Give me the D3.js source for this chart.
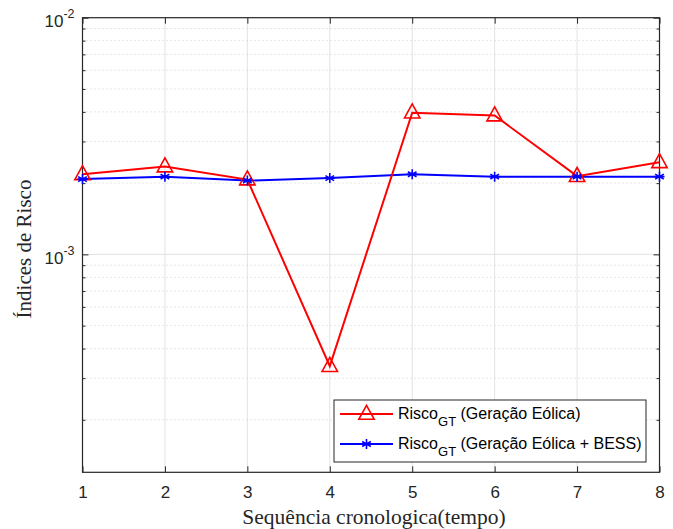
<!DOCTYPE html>
<html>
<head>
<meta charset="utf-8">
<script src="https://cdn.jsdelivr.net/npm/d3@7"></script>
<style>
    body { margin: 0; background: #fff; }
    svg { display: block; }
    .tick text { font-family: "Liberation Sans", Arial, sans-serif; fill: #262626; }
</style>
</head>
<body>
<svg id="chart" width="673" height="529"></svg>
<script>
const steps = [1, 2, 3, 4, 5, 6, 7, 8];
const risk_wind = [2.18e-3, 2.35e-3, 2.07e-3, 3.37e-4, 3.97e-3, 3.86e-3, 2.14e-3, 2.45e-3];
const risk_wind_bess = [2.08e-3, 2.13e-3, 2.05e-3, 2.10e-3, 2.18e-3, 2.13e-3, 2.13e-3, 2.13e-3];
const y_major = [1e-3, 1e-2];
const y_exponents = ["-3", "-2"];
const legend_labels = ["(Geração Eólica)", "(Geração Eólica + BESS)"];

const svg = d3.select("#chart");
const plot_left = 82.5, plot_right = 659.5, plot_top = 17.7, plot_bottom = 472.3;
const axis_color = "#262626";

const x = d3.scaleLinear().domain([1, 8]).range([plot_left, plot_right]);
const y = d3.scaleLog().domain([1.2e-4, 1e-2]).range([plot_bottom, plot_top]);

// minor values 2..9 x 10^k inside the domain
let y_minor = [];
[-4, -3].forEach(k => {
    for (let m = 2; m <= 9; m++) {
        let v = m * Math.pow(10, k);
        if (v >= 1.2e-4 && v < 1e-2) y_minor.push(v);
    }
});

// grid
let grid = svg.append("g");
grid.selectAll("line.vx")
    .data(steps.slice(1, -1))
    .join("line")
    .attr("x1", d => x(d)).attr("x2", d => x(d))
    .attr("y1", plot_top).attr("y2", plot_bottom)
    .attr("stroke", "#e3e3e3").attr("stroke-width", 1);
grid.selectAll("line.my")
    .data(y_minor)
    .join("line")
    .attr("x1", plot_left).attr("x2", plot_right)
    .attr("y1", d => y(d)).attr("y2", d => y(d))
    .attr("stroke", "#cfcfcf").attr("stroke-width", 1)
    .attr("stroke-dasharray", "1,3");
grid.append("line")
    .attr("x1", plot_left).attr("x2", plot_right)
    .attr("y1", y(1e-3)).attr("y2", y(1e-3))
    .attr("stroke", "#e3e3e3").attr("stroke-width", 1);

// axes
function style_axis(g) {
    g.select(".domain").remove();
    g.selectAll(".tick line").attr("stroke", axis_color);
}

svg.append("g")
    .attr("transform", `translate(0,${plot_bottom})`)
    .call(d3.axisBottom(x).tickValues(steps).tickSize(-6).tickPadding(14).tickFormat(d3.format("d")))
    .call(style_axis)
    .selectAll("text").attr("font-size", 17);
svg.append("g")
    .attr("transform", `translate(0,${plot_top})`)
    .call(d3.axisTop(x).tickValues(steps).tickSize(-6).tickFormat(""))
    .call(style_axis);

let y_left = svg.append("g")
    .attr("transform", `translate(${plot_left},0)`)
    .call(d3.axisLeft(y).tickValues(y_major).tickSize(-6).tickFormat(""))
    .call(style_axis);
svg.append("g")
    .attr("transform", `translate(${plot_left},0)`)
    .call(d3.axisLeft(y).tickValues(y_minor).tickSize(-3).tickFormat(""))
    .call(style_axis);
svg.append("g")
    .attr("transform", `translate(${plot_right},0)`)
    .call(d3.axisRight(y).tickValues(y_major).tickSize(-6).tickFormat(""))
    .call(style_axis);
svg.append("g")
    .attr("transform", `translate(${plot_right},0)`)
    .call(d3.axisRight(y).tickValues(y_minor).tickSize(-3).tickFormat(""))
    .call(style_axis);

// 10^k labels
y_left.selectAll(".tick").each(function (d, i) {
    let t = d3.select(this).append("text")
        .attr("x", -8).attr("y", 9)
        .attr("text-anchor", "end")
        .attr("font-size", 17);
    t.append("tspan").text("10");
    t.append("tspan").attr("dy", -9).attr("font-size", 12.5).text(y_exponents[i]);
});

// frame
svg.append("rect")
    .attr("x", plot_left).attr("y", plot_top)
    .attr("width", plot_right - plot_left).attr("height", plot_bottom - plot_top)
    .attr("fill", "none").attr("stroke", axis_color).attr("stroke-width", 1.2);

// series
const line = d3.line().x((d, i) => x(steps[i])).y(d => y(d));

function triangle(g, size) {
    return g.append("path")
        .attr("d", `M0,${-size * 0.62} L${size * 0.55},${size * 0.38} L${-size * 0.55},${size * 0.38} Z`)
        .attr("fill", "none").attr("stroke", "#ff0000").attr("stroke-width", 1.6);
}
function asterisk(g, size) {
    let r = size / 2, p = "";
    [0, 60, 120].forEach(a => {
        let c = Math.cos(a * Math.PI / 180) * r, s = Math.sin(a * Math.PI / 180) * r;
        p += `M${-s},${-c}L${s},${c}`;
    });
    p += `M${-r},0L${r},0`;
    return g.append("path").attr("d", p)
        .attr("fill", "none").attr("stroke", "#0000ff").attr("stroke-width", 1.6);
}

svg.append("path").datum(risk_wind_bess)
    .attr("d", line).attr("fill", "none").attr("stroke", "#0000ff").attr("stroke-width", 2);
svg.append("path").datum(risk_wind)
    .attr("d", line).attr("fill", "none").attr("stroke", "#ff0000").attr("stroke-width", 2);

svg.selectAll("g.tri").data(risk_wind).join("g")
    .attr("transform", (d, i) => `translate(${x(steps[i])},${y(d)})`)
    .each(function () { triangle(d3.select(this), 14); });
svg.selectAll("g.ast").data(risk_wind_bess).join("g")
    .attr("transform", (d, i) => `translate(${x(steps[i])},${y(d)})`)
    .each(function () { asterisk(d3.select(this), 10); });

// axis titles
svg.append("text")
    .attr("x", (plot_left + plot_right) / 2 + 3).attr("y", 524)
    .attr("text-anchor", "middle")
    .attr("font-family", "'Liberation Serif', 'Times New Roman', serif")
    .attr("font-size", 21.5).attr("fill", axis_color)
    .text("Sequência cronologica(tempo)");
svg.append("text")
    .attr("transform", `translate(31,249) rotate(-90)`)
    .attr("text-anchor", "middle")
    .attr("font-family", "'Liberation Serif', 'Times New Roman', serif")
    .attr("font-size", 21).attr("fill", axis_color)
    .text("Índices de Risco");

// legend
let legend = svg.append("g");
legend.append("rect")
    .attr("x", 334).attr("y", 400).attr("width", 312).attr("height", 62)
    .attr("fill", "#fff").attr("stroke", axis_color).attr("stroke-width", 1);
[0, 1].forEach(i => {
    let ly = 414 + i * 30;
    let color = i === 0 ? "#ff0000" : "#0000ff";
    legend.append("line")
        .attr("x1", 340).attr("x2", 393).attr("y1", ly).attr("y2", ly)
        .attr("stroke", color).attr("stroke-width", 2);
    let mg = legend.append("g").attr("transform", `translate(366.5,${ly})`);
    if (i === 0) triangle(mg, 14); else asterisk(mg, 10);
    let t = legend.append("text")
        .attr("x", 398).attr("y", ly + 5)
        .attr("font-family", "'Liberation Sans', Arial, sans-serif")
        .attr("font-size", 16).attr("fill", "#000");
    t.append("tspan").text("Risco");
    t.append("tspan").attr("dy", 7).attr("font-size", 13).text("GT");
    t.append("tspan").attr("dy", -7).text(" " + legend_labels[i]);
});
</script>
</body>
</html>
